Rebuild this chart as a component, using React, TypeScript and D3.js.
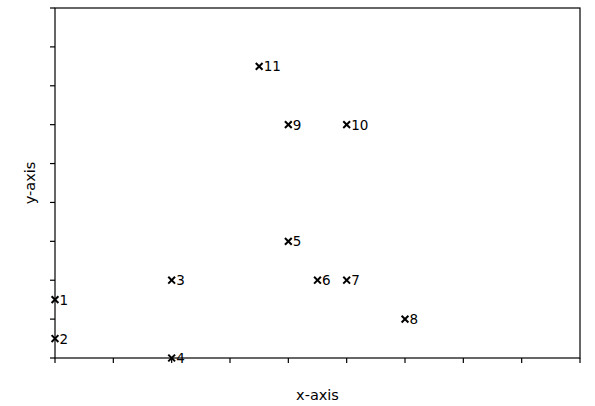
import React from "react";
import * as d3 from "d3";

const labels = ["1", "2", "3", "4", "5", "6", "7", "8", "9", "10", "11"];
const xValues = [0, 0, 2, 2, 4, 4.5, 5, 6, 4, 5, 3.5];
const yValues = [1.5, 0.5, 2, 0, 3, 2, 2, 1, 6, 6, 7.5];
const xTicks = [0, 1, 2, 3, 4, 5, 6, 7, 8, 9];
const yTicks = [0, 1, 2, 3, 4, 5, 6, 7, 8, 9];

export default function App() {
  const W = 595, H = 406;
  const left = 55, right = 580, top = 8, bottom = 358;
  const x = d3.scaleLinear().domain([0, 9]).range([left, right]);
  const y = d3.scaleLinear().domain([0, 9]).range([bottom, top]);
  const font = "'DejaVu Sans', sans-serif";
  return (
    <svg width={W} height={H} style={{ position: "absolute", left: 0, top: 0, background: "#fff" }}>
      <rect x={left} y={top} width={right - left} height={bottom - top} fill="none" stroke="#000" strokeWidth={1.2} />
      {xTicks.map((t) => (
        <line key={"xt" + t} x1={x(t)} x2={x(t)} y1={bottom} y2={bottom + 5} stroke="#000" strokeWidth={1.2} />
      ))}
      {yTicks.map((t) => (
        <line key={"yt" + t} x1={left - 5} x2={left} y1={y(t)} y2={y(t)} stroke="#000" strokeWidth={1.2} />
      ))}
      {labels.map((l, i) => {
        const cx = x(xValues[i]);
        const cy = y(yValues[i]);
        const s = 3.4;
        return (
          <g key={l}>
            <line x1={cx - s} x2={cx + s} y1={cy - s} y2={cy + s} stroke="#000" strokeWidth={2} />
            <line x1={cx - s} x2={cx + s} y1={cy + s} y2={cy - s} stroke="#000" strokeWidth={2} />
            <text x={cx + 4.5} y={cy + 5} fontFamily={font} fontSize={13.5} fill="#000">{l}</text>
          </g>
        );
      })}
      <text x={(left + right) / 2} y={400} textAnchor="middle" fontFamily={font} fontSize={14.5} fill="#000">x-axis</text>
      <text transform={`translate(35, ${(top + bottom) / 2}) rotate(-90)`} textAnchor="middle" fontFamily={font} fontSize={14.5} fill="#000">y-axis</text>
    </svg>
  );
}
